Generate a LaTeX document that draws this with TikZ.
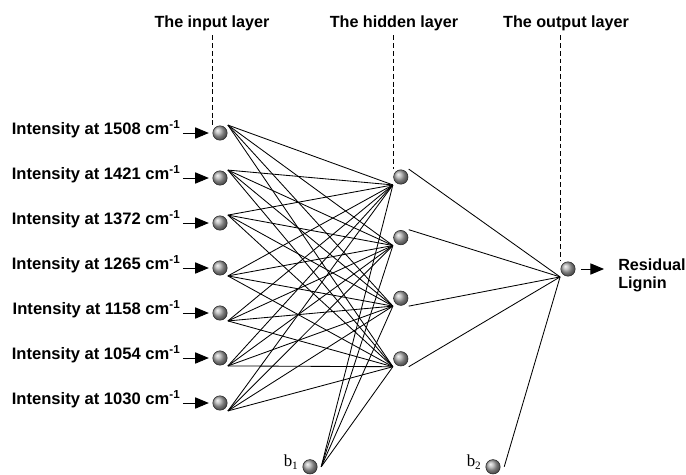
\documentclass[tikz,border=0pt]{standalone}
\usepackage{fontspec}
\setmainfont{Liberation Sans}
\newfontfamily\biasfont{Liberation Serif}
\usetikzlibrary{arrows.meta,positioning}
\tikzset{
  neuron/.style={
    circle,
    minimum size=0.36cm,
    inner sep=0pt,
    outer sep=0.1cm,
    draw=black!85,
    line width=0.4pt,
    ball color=gray!65
  },
  inlabel/.style={
    inner sep=0pt,
    anchor=base east,
    font=\bfseries\fontsize{11.8}{14}\selectfont
  },
  layertitle/.style={anchor=base, font=\bfseries\fontsize{11.5}{13}\selectfont},
  outlabel/.style={anchor=west, inner sep=0pt, align=left, font=\bfseries\fontsize{11.5}{12.8}\selectfont},
  biaslabel/.style={anchor=base east, inner sep=0pt, font=\biasfont\fontsize{12}{14}\selectfont},
  link/.style={line width=0.6pt},
  guide/.style={line width=0.5pt, dash pattern=on 3.5pt off 2pt},
  arrow/.style={-{Triangle[length=0.34cm,width=0.28cm]}, line width=0.6pt, shorten <=1.5pt}
}

\begin{document}
\begin{tikzpicture}[node distance=1.125cm, on grid]
  \useasboundingbox (0,0) rectangle (17.15,11.85);

  % input layer
  \node[neuron] (in1) at (5.5,8.525) {};
  \node[neuron, below=of in1] (in2) {};
  \node[neuron, below=of in2] (in3) {};
  \node[neuron, below=of in3] (in4) {};
  \node[neuron, below=of in4] (in5) {};
  \node[neuron, below=of in5] (in6) {};
  \node[neuron, below=of in6] (in7) {};

  % hidden layer
  \node[neuron] (hid1) at (10.02,7.425) {};
  \node[neuron, below=1.515cm of hid1] (hid2) {};
  \node[neuron, below=1.515cm of hid2] (hid3) {};
  \node[neuron, below=1.515cm of hid3] (hid4) {};

  % output layer and biases
  \node[neuron] (out) at (14.2,5.125) {};
  \node[neuron] (b1) at (7.75,0.18) {};
  \node[neuron] (b2) at (12.325,0.18) {};
  \node[biaslabel] (b1lab) at (b1.west) {b\textsubscript{1}};
  \node[biaslabel] (b2lab) at (b2.west) {b\textsubscript{2}};

  % titles
  \node[layertitle] (inlay) at (5.3,11.175) {The input layer};
  \node[layertitle] (hidlay) at (9.85,11.175) {The hidden layer};
  \node[layertitle] (outlay) at (14.15,11.175) {The output layer};
  \draw[guide] (in1.north west |- inlay.south) -- (in1.north west);
  \draw[guide] (hid1.north west |- hidlay.south) -- (hid1.north west);
  \draw[guide] (out.north west |- outlay.south) -- (out.north west);

  % inputs
  \foreach \i/\w in {1/1508,2/1421,3/1372,4/1265,5/1158,6/1054,7/1030} {
    \node[inlabel] (lab\i) at ([xshift=-0.7cm,yshift=-0.04cm]in\i.west) {Intensity at \w\ cm\textsuperscript{-1}};
    \draw[arrow] (lab\i.east |- in\i) -- (in\i);
  }

  % weights
  \foreach \i/\a in {1/north east,2/north east,3/north east,4/south east,5/south east,6/south east,7/south east}
    \foreach \j in {1,...,4}
      \draw[link] (in\i.\a) -- (hid\j.south west);
  \foreach \j/\a in {1/north east,2/north east,3/south east,4/south east}
    \draw[link] (hid\j.\a) -- (out.south west);
  \foreach \j in {1,...,4}
    \draw[link] (b1.east) -- (hid\j.south west);
  \draw[link] (b2.east) -- (out.south west);

  % output
  \coordinate (restip) at (15.1,5.125);
  \draw[arrow] (out) -- (restip);
  \node[outlabel] (res) at (15.45,4.975) {Residual\\Lignin};
\end{tikzpicture}
\end{document}
